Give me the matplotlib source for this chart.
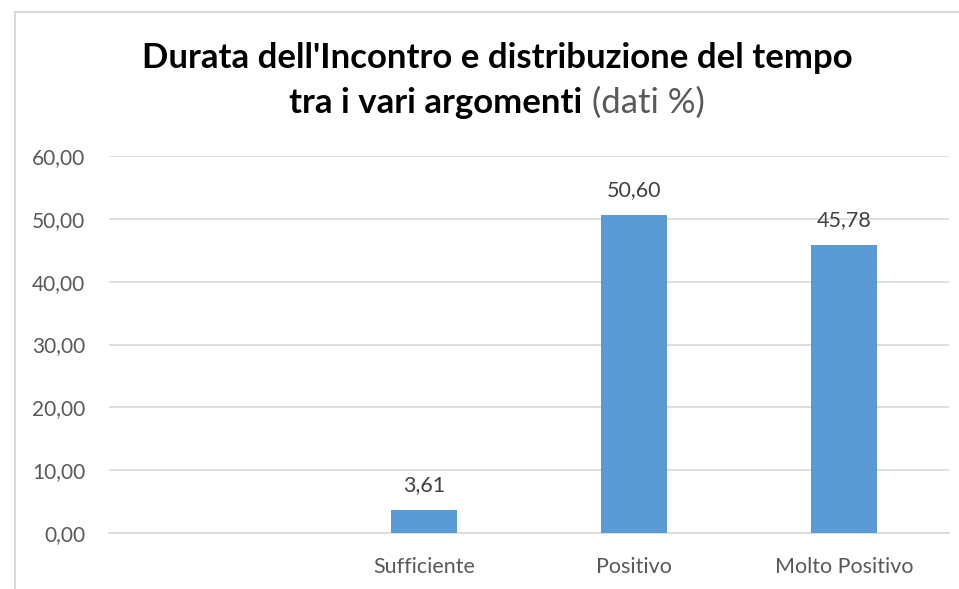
import numpy as np
import matplotlib
matplotlib.use("Agg")
import matplotlib.pyplot as plt
from matplotlib.lines import Line2D

categories = ["", "Sufficiente", "Positivo", "Molto Positivo"]
values = [np.nan, 3.61, 50.60, 45.78]
yticks = [0, 10, 20, 30, 40, 50, 60]
title_line1 = "Durata dell'Incontro e distribuzione del tempo"
title_line2_bold = "tra i vari argomenti"
title_line2_light = " (dati %)"

plt.rcParams['font.family'] = ['Lato', 'DejaVu Sans']

W, H = 959, 589
fig = plt.figure(figsize=(W / 100, H / 100), dpi=100)
fig.patch.set_facecolor('white')

# chart border
fig.add_artist(Line2D([15 / W, 1.0], [1 - 12 / H, 1 - 12 / H], color='#d9d9d9', lw=1.5))
fig.add_artist(Line2D([15 / W, 15 / W], [1 - 12 / H, 0.0], color='#d9d9d9', lw=1.5))

ax = fig.add_axes([109 / W, 1 - 533 / H, (949 - 109) / W, (533 - 156) / H])
x = np.arange(len(categories))
vals = np.array(values, dtype=float)
ax.bar(x, np.nan_to_num(vals), width=0.31, color='#5b9bd5', zorder=3)
ax.set_xlim(-0.5, len(categories) - 0.5)
ax.set_ylim(0, 60)
ax.set_yticks(yticks)
ax.set_yticklabels([f"{v:.2f}".replace('.', ',') for v in yticks], fontsize=15, color='#595959')
ax.set_xticks(x)
ax.set_xticklabels(categories, fontsize=15.5, color='#595959')
ax.tick_params(axis='both', length=0)
ax.tick_params(axis='y', pad=17)
ax.tick_params(axis='x', pad=17)
ax.grid(axis='y', color='#d9d9d9', lw=1.2, zorder=0)
for s in ax.spines.values():
    s.set_visible(False)
ax.spines['bottom'].set_visible(True)
ax.spines['bottom'].set_color('#d9d9d9')
ax.spines['bottom'].set_linewidth(1.2)

for xi, v in zip(x, vals):
    if np.isnan(v):
        continue
    ax.annotate(f"{v:.2f}".replace('.', ','), (xi, v), xytext=(0, 11), textcoords='offset points',
                ha='center', va='bottom', fontsize=15.5, color='#404040')

# title
cx = 497 / W
fig.text(cx, 1 - 68 / H, title_line1, ha='center', va='baseline', fontsize=25,
         fontweight='bold', color='black')
t1 = fig.text(0, 1 - 113 / H, title_line2_bold, ha='left', va='baseline', fontsize=25,
              fontweight='bold', color='black')
t2 = fig.text(0, 1 - 113 / H, title_line2_light, ha='left', va='baseline', fontsize=25,
              color='#595959')
r = fig.canvas.get_renderer()
w1 = t1.get_window_extent(r).width / W
w2 = t2.get_window_extent(r).width / W
start = cx - (w1 + w2) / 2
t1.set_x(start)
t2.set_x(start + w1)

fig.savefig('out.png', dpi=100, facecolor='white')
